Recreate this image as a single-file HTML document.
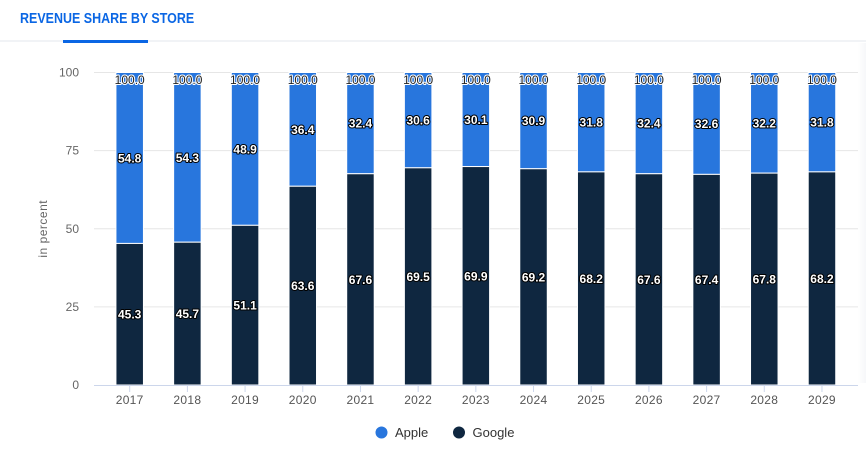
<!DOCTYPE html>
<html><head><meta charset="utf-8">
<style>
html,body{margin:0;padding:0;background:#fff;}
body{width:866px;height:466px;overflow:hidden;position:relative;font-family:"Liberation Sans",sans-serif;}
.title{position:absolute;left:20px;top:11.5px;font-size:14.5px;line-height:14.5px;font-weight:bold;color:#0a66e4;transform:scaleX(0.86);transform-origin:0 0;white-space:nowrap;}
.sep{position:absolute;left:0;top:40px;width:866px;height:2px;background:#f1f3f6;}
.tab{position:absolute;left:63px;top:40px;width:85px;height:3px;background:#0a66e4;}
.shade{position:absolute;left:858px;top:43px;width:8px;height:340px;background:linear-gradient(to right,#fff,#f6f7f9);}
svg{position:absolute;left:0;top:0;}
</style></head>
<body>
<div class="title">REVENUE SHARE BY STORE</div>
<div class="sep"></div>
<div class="tab"></div>
<div class="shade"></div>
<svg width="866" height="466" xmlns="http://www.w3.org/2000/svg" font-family="Liberation Sans, sans-serif">
  <g stroke="#e6e6e6" stroke-width="1">
    <line x1="94" x2="858" y1="72.5" y2="72.5"/>
    <line x1="94" x2="858" y1="150.6" y2="150.6"/>
    <line x1="94" x2="858" y1="228.75" y2="228.75"/>
    <line x1="94" x2="858" y1="306.9" y2="306.9"/>
  </g>
  <g font-size="12" fill="#666" text-anchor="end">
    <text x="79" y="76.5">100</text>
    <text x="79" y="154.6">75</text>
    <text x="79" y="232.75">50</text>
    <text x="79" y="310.9">25</text>
    <text x="79" y="389">0</text>
  </g>
  <text x="47" y="228.75" font-size="12" fill="#666" text-anchor="middle" letter-spacing="0.5" transform="rotate(-90 47 228.75)">in percent</text>
  <g id="bars"></g>
  <line x1="94" x2="858" y1="385.5" y2="385.5" stroke="#ccd6eb" stroke-width="1"/>
  <g id="ticks" stroke="#ccd6eb" stroke-width="1"></g>
  <g id="xl" font-size="12" fill="#555" text-anchor="middle" letter-spacing="0.3"></g>
  <g id="labels"></g>
  <circle cx="381.5" cy="432.5" r="6" fill="#2876dd"/>
  <text x="395" y="437" font-size="13" fill="#333">Apple</text>
  <circle cx="459" cy="432.5" r="6" fill="#0f2740"/>
  <text x="472.5" y="437" font-size="13" fill="#333">Google</text>
</svg>
<script>
(function(){
var ns="http://www.w3.org/2000/svg";
var years=[2017,2018,2019,2020,2021,2022,2023,2024,2025,2026,2027,2028,2029];
var g=[45.3,45.7,51.1,63.6,67.6,69.5,69.9,69.2,68.2,67.6,67.4,67.8,68.2];
var a=[54.8,54.3,48.9,36.4,32.4,30.6,30.1,30.9,31.8,32.4,32.6,32.2,31.8];
function Y(v){return 385-3.125*v;}
var bars=document.getElementById('bars'),ticks=document.getElementById('ticks'),xl=document.getElementById('xl'),lab=document.getElementById('labels');
function el(p,t,at,txt){var e=document.createElementNS(ns,t);for(var k in at)e.setAttribute(k,at[k]);if(txt)e.textContent=txt;p.appendChild(e);return e;}
for(var i=0;i<13;i++){
  var c=100.85+57.69*(i+0.5);
  var x=c-13.75,w=27.5;
  el(bars,'rect',{x:x,y:Y(100),width:w,height:Y(g[i])-Y(100),fill:'#2876dd',stroke:'#fff','stroke-width':1});
  el(bars,'rect',{x:x,y:Y(g[i]),width:w,height:Y(0)-Y(g[i]),fill:'#0f2740',stroke:'#fff','stroke-width':1});
  el(ticks,'line',{x1:c,x2:c,y1:385.5,y2:392});
  el(xl,'text',{x:c,y:404},String(years[i]));
  el(lab,'text',{x:c,y:84,'font-size':12,'text-anchor':'middle',fill:'#222',stroke:'#fff','stroke-width':2,'paint-order':'stroke','stroke-linejoin':'round'},'100.0');
  el(lab,'text',{x:c,y:Y((g[i]+100)/2)+4.5,'font-size':12,'font-weight':'bold','text-anchor':'middle',fill:'#fff',stroke:'#000','stroke-width':2,'paint-order':'stroke','stroke-linejoin':'round'},a[i].toFixed(1));
  el(lab,'text',{x:c,y:Y(g[i]/2)+4.5,'font-size':12,'font-weight':'bold','text-anchor':'middle',fill:'#fff',stroke:'#000','stroke-width':2,'paint-order':'stroke','stroke-linejoin':'round'},g[i].toFixed(1));
}
})();
</script>
</body></html>
